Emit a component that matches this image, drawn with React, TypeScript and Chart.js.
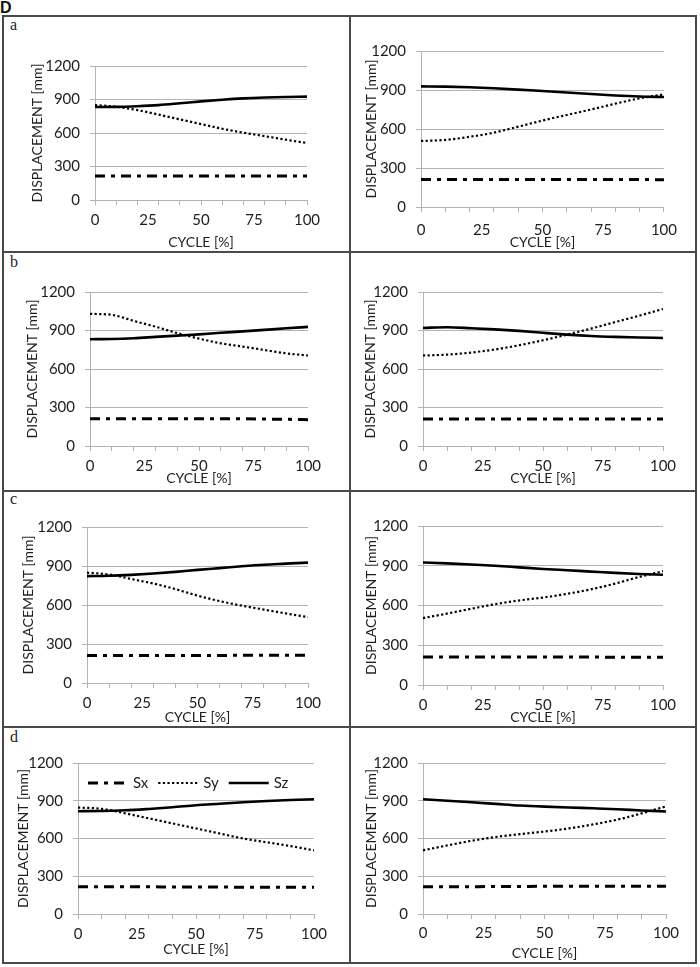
import React, { useEffect, useRef } from 'react';
import { Chart, registerables } from 'chart.js';

const CYCLE = [0, 10, 20, 30, 40, 50, 60, 70, 80, 90, 100];
const X_TICK_LABELS = [0, 25, 50, 75, 100];
const SERIES_NAMES = ['Sx', 'Sy', 'Sz'];

// Row a
const A_LEFT_SX = [214, 214, 214, 214, 215, 215, 215, 216, 216, 215, 215];
const A_LEFT_SY = [850, 835, 805, 765, 722, 680, 638, 603, 572, 540, 510];
const A_LEFT_SZ = [833, 834, 840, 850, 866, 883, 898, 910, 918, 923, 926];
const A_RIGHT_SX = [212, 212, 212, 212, 212, 212, 212, 212, 212, 211, 210];
const A_RIGHT_SY = [508, 516, 540, 572, 618, 665, 708, 750, 795, 836, 866];
const A_RIGHT_SZ = [928, 926, 921, 913, 903, 892, 881, 869, 858, 850, 846];
// Row b
const B_LEFT_SX = [212, 212, 212, 212, 212, 212, 212, 212, 210, 208, 205];
const B_LEFT_SY = [1030, 1022, 975, 930, 880, 837, 800, 775, 748, 722, 705];
const B_LEFT_SZ = [832, 834, 840, 850, 860, 870, 882, 893, 905, 917, 928];
const B_RIGHT_SX = [210, 210, 210, 210, 210, 210, 210, 210, 210, 210, 210];
const B_RIGHT_SY = [705, 712, 728, 752, 785, 824, 868, 915, 965, 1015, 1068];
const B_RIGHT_SZ = [920, 925, 918, 909, 897, 882, 868, 857, 850, 845, 842];
// Row c
const C_LEFT_SX = [212, 212, 212, 212, 212, 212, 212, 213, 213, 213, 213];
const C_LEFT_SY = [849, 835, 800, 765, 722, 672, 630, 595, 565, 535, 507];
const C_LEFT_SZ = [822, 825, 832, 842, 855, 870, 884, 898, 910, 918, 926];
const C_RIGHT_SX = [212, 212, 212, 212, 212, 212, 212, 211, 210, 210, 210];
const C_RIGHT_SY = [505, 539, 575, 610, 638, 660, 688, 722, 765, 815, 859];
const C_RIGHT_SZ = [924, 918, 910, 900, 888, 876, 866, 856, 846, 838, 832];
// Row d
const D_LEFT_SX = [216, 216, 216, 216, 215, 215, 214, 213, 212, 212, 212];
const D_LEFT_SY = [846, 836, 800, 760, 720, 680, 640, 600, 570, 540, 506];
const D_LEFT_SZ = [817, 818, 824, 835, 848, 864, 876, 888, 898, 906, 912];
const D_RIGHT_SX = [216, 216, 217, 218, 219, 220, 220, 220, 220, 220, 220];
const D_RIGHT_SY = [506, 545, 582, 612, 635, 655, 680, 712, 750, 800, 855];
const D_RIGHT_SZ = [912, 900, 888, 875, 862, 853, 846, 840, 833, 823, 815];

const GRID = '#b4b4b4';
const TEXT = '#1e1e1e';
const FONT = 'Lato';
const TICK_SIZE = 15;
const TITLE_SIZE = 14;

const innerLegend = {
  id: 'innerLegend',
  afterDatasetsDraw(chart: any, _args: any, opts: any) {
    if (!opts || !opts.display) return;
    const { ctx, chartArea } = chart;
    let x = chartArea.left + opts.offsetX;
    const y = chartArea.top + opts.offsetY;
    ctx.save();
    ctx.font = `${TICK_SIZE}px ${FONT}`;
    ctx.textBaseline = 'middle';
    chart.data.datasets.forEach((ds: any) => {
      ctx.beginPath();
      ctx.setLineDash(ds.borderDash || []);
      ctx.lineWidth = ds.borderWidth;
      ctx.strokeStyle = ds.borderColor;
      ctx.moveTo(x, y);
      ctx.lineTo(x + opts.sample, y);
      ctx.stroke();
      x += opts.sample + opts.gap;
      ctx.setLineDash([]);
      ctx.fillStyle = TEXT;
      ctx.fillText(ds.label, x, y);
      x += ctx.measureText(ds.label).width + opts.itemGap;
    });
    ctx.restore();
  },
};

Chart.register(...registerables, innerLegend);

const YW = 72;
const PT = 14;
const PR = 20;
const XH = 58;

type PanelCfg = {
  sx: number[];
  sy: number[];
  sz: number[];
  area: [number, number, number, number];
  yTitleGap: number;
  xLabelGap: number;
  xTitleGap: number;
  legend: boolean;
};

const PANELS: PanelCfg[] = [
  { sx: A_LEFT_SX, sy: A_LEFT_SY, sz: A_LEFT_SZ, area: [95, 61, 307, 200], yTitleGap: 57.5, xLabelGap: 20, xTitleGap: 42, legend: false },
  { sx: A_RIGHT_SX, sy: A_RIGHT_SY, sz: A_RIGHT_SZ, area: [421, 46, 666, 207], yTitleGap: 50, xLabelGap: 23, xTitleGap: 35, legend: false },
  { sx: B_LEFT_SX, sy: B_LEFT_SY, sz: B_LEFT_SZ, area: [90, 287, 308, 446], yTitleGap: 58, xLabelGap: 20.5, xTitleGap: 32, legend: false },
  { sx: B_RIGHT_SX, sy: B_RIGHT_SY, sz: B_RIGHT_SZ, area: [423, 287, 663, 446], yTitleGap: 53, xLabelGap: 20.5, xTitleGap: 32, legend: false },
  { sx: C_LEFT_SX, sy: C_LEFT_SY, sz: C_LEFT_SZ, area: [87, 522, 308, 683], yTitleGap: 59, xLabelGap: 20.5, xTitleGap: 34, legend: false },
  { sx: C_RIGHT_SX, sy: C_RIGHT_SY, sz: C_RIGHT_SZ, area: [423, 521, 663, 685], yTitleGap: 52, xLabelGap: 20.3, xTitleGap: 32.5, legend: false },
  { sx: D_LEFT_SX, sy: D_LEFT_SY, sz: D_LEFT_SZ, area: [78, 758, 314, 914], yTitleGap: 55, xLabelGap: 20, xTitleGap: 35, legend: true },
  { sx: D_RIGHT_SX, sy: D_RIGHT_SY, sz: D_RIGHT_SZ, area: [423, 758, 666, 914], yTitleGap: 52, xLabelGap: 19.5, xTitleGap: 39, legend: false },
];

function Panel({ cfg }: { cfg: PanelCfg }) {
  const ref = useRef<HTMLCanvasElement | null>(null);
  const [l, t, r, b] = cfg.area;
  const width = YW + (r - l) + PR;
  const height = PT + (b - t) + XH;
  useEffect(() => {
    if (!ref.current) return;
    const values = [cfg.sx, cfg.sy, cfg.sz];
    const styles = [
      { borderDash: [10, 6, 4, 6], borderWidth: 3 },
      { borderDash: [2.2, 2.4], borderWidth: 2.2 },
      { borderDash: [], borderWidth: 2.6 },
    ];
    const lh = TITLE_SIZE * 1.2;
    const tickHalf = (TICK_SIZE * 1.2) / 2;
    const chart = new Chart(ref.current, {
      type: 'line',
      data: {
        datasets: SERIES_NAMES.map((name, i) => ({
          label: name,
          data: CYCLE.map((c, j) => ({ x: c, y: values[i][j] })),
          borderColor: '#000',
          backgroundColor: '#000',
          borderCapStyle: 'butt',
          pointRadius: 0,
          fill: false,
          cubicInterpolationMode: 'monotone',
          ...styles[i],
        })),
      },
      options: {
        animation: false,
        responsive: false,
        devicePixelRatio: 1,
        layout: { padding: { left: 0, top: PT, right: PR, bottom: 0 } },
        plugins: {
          legend: { display: false },
          tooltip: { enabled: false },
          innerLegend: { display: cfg.legend, offsetX: 10, offsetY: 20, sample: 40, gap: 5, itemGap: 10 },
        } as any,
        scales: {
          x: {
            type: 'linear',
            min: 0,
            max: 100,
            afterFit: (s: any) => { s.height = XH; },
            border: { display: true, color: GRID, width: 1 },
            grid: {
              drawOnChartArea: false,
              drawTicks: true,
              tickLength: 5,
              color: (c: any) => (c.tick && c.tick.value % 10 === 0 ? GRID : 'rgba(0,0,0,0)'),
            },
            ticks: {
              stepSize: 5,
              autoSkip: false,
              maxRotation: 0,
              padding: cfg.xLabelGap - 5 - tickHalf,
              font: { family: FONT, size: TICK_SIZE },
              color: TEXT,
              callback: (v: any) => (X_TICK_LABELS.includes(Number(v)) ? String(v) : ''),
            },
            title: {
              display: true,
              text: 'CYCLE [%]',
              font: { family: FONT, size: TITLE_SIZE },
              color: TEXT,
              padding: { top: 0, bottom: XH - cfg.xTitleGap - lh / 2 },
            },
          },
          y: {
            min: 0,
            max: 1200,
            afterFit: (s: any) => { s.width = YW; },
            border: { display: true, color: GRID, width: 1 },
            grid: { color: GRID, drawTicks: true, tickLength: 5, lineWidth: 1 },
            ticks: {
              stepSize: 300,
              padding: 10,
              font: { family: FONT, size: TICK_SIZE },
              color: TEXT,
              callback: (v: any) => String(v),
            },
            title: {
              display: true,
              text: 'DISPLACEMENT [mm]',
              font: { family: FONT, size: TITLE_SIZE },
              color: TEXT,
              padding: { top: YW - cfg.yTitleGap - lh / 2, bottom: 0 },
            },
          },
        },
      } as any,
    });
    return () => chart.destroy();
  }, [cfg]);
  return (
    <canvas
      ref={ref}
      width={width}
      height={height}
      style={{ position: 'absolute', left: l - YW, top: t - PT, width, height }}
    />
  );
}

const BORDER = '#4a4a4a';

export default function App() {
  const letterStyle: React.CSSProperties = {
    position: 'absolute',
    left: 10,
    fontFamily: '"Liberation Serif", "Times New Roman", serif',
    fontSize: 16,
    lineHeight: '16px',
    color: '#222',
  };
  return (
    <div style={{ position: 'absolute', left: 0, top: 0, width: 700, height: 967, background: '#fff', overflow: 'hidden' }}>
      <div style={{ position: 'absolute', left: 0, top: 0, fontFamily: '"Liberation Sans", Arial, sans-serif', fontWeight: 'bold', fontSize: 16, lineHeight: '16px', color: '#111' }}>D</div>
      <div style={{ position: 'absolute', left: 2, top: 15, width: 695, height: 949, border: `2px solid ${BORDER}`, boxSizing: 'border-box' }} />
      <div style={{ position: 'absolute', left: 349, top: 15, width: 2, height: 949, background: BORDER }} />
      <div style={{ position: 'absolute', left: 2, top: 251, width: 695, height: 2, background: BORDER }} />
      <div style={{ position: 'absolute', left: 2, top: 490, width: 695, height: 2, background: BORDER }} />
      <div style={{ position: 'absolute', left: 2, top: 726, width: 695, height: 2, background: BORDER }} />
      <div style={{ ...letterStyle, top: 17 }}>a</div>
      <div style={{ ...letterStyle, top: 254 }}>b</div>
      <div style={{ ...letterStyle, top: 491 }}>c</div>
      <div style={{ ...letterStyle, top: 729 }}>d</div>
      {PANELS.map((p, i) => (
        <Panel key={i} cfg={p} />
      ))}
    </div>
  );
}
